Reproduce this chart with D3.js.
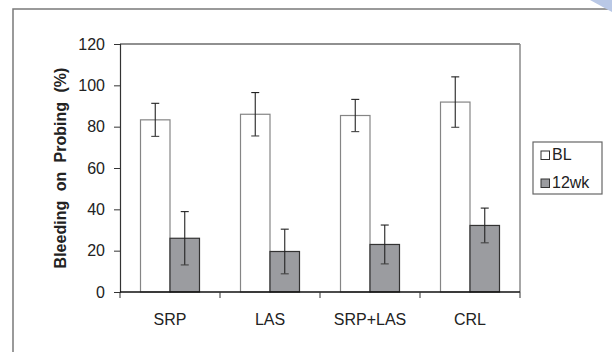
<!DOCTYPE html>
<html>
<head>
<meta charset="utf-8">
<script src="https://cdn.jsdelivr.net/npm/d3@7"></script>
<style>
  body { margin: 0; background: #fff; }
  svg { display: block; font-family: "Liberation Sans", Arial, sans-serif; }
</style>
</head>
<body>
<div id="chart"></div>
<script>
// data
var groups = ["SRP", "LAS", "SRP+LAS", "CRL"];
var series = ["BL", "12wk"];
var blMean = [83.3, 86.0, 85.4, 91.9];
var blErr = [8.0, 10.5, 7.8, 12.2];
var wkMean = [26.0, 19.6, 23.0, 32.2];
var wkErr = [12.9, 10.8, 9.4, 8.4];
var yTicks = [0, 20, 40, 60, 80, 100, 120];

var svgWidth = 612;
var svgHeight = 352;

var margin = { top: 44, right: 92, bottom: 60, left: 120 };
var width = svgWidth - margin.left - margin.right;   // 400
var height = svgHeight - margin.top - margin.bottom; // 248

var fills = { "BL": "#ffffff", "12wk": "#9b9ca0" };
var strokes = { "BL": "#858585", "12wk": "#333333" };

var rows = [];
groups.forEach(function(g, i) {
  rows.push({ group: g, key: "BL", value: blMean[i], err: blErr[i] });
  rows.push({ group: g, key: "12wk", value: wkMean[i], err: wkErr[i] });
});

var svg = d3.select("#chart")
  .append("svg")
  .attr("width", svgWidth)
  .attr("height", svgHeight);

// outer frame of the figure
svg.append("rect")
  .attr("x", 13)
  .attr("y", 9)
  .attr("width", 640)
  .attr("height", 400)
  .attr("fill", "#fff")
  .attr("stroke", "#7a7a7a")
  .attr("stroke-width", 1.5);

// faint watermark corner
svg.append("path")
  .attr("d", "M590,0 L612,0 L612,12 Z")
  .attr("fill", "#b9c8e6");

var chartGroup = svg.append("g")
  .attr("transform", `translate(${margin.left}, ${margin.top})`);

var xScale = d3.scaleBand()
  .domain(groups)
  .range([0, width])
  .paddingInner(0.41)
  .paddingOuter(0.205);

var xSub = d3.scaleBand()
  .domain(series)
  .range([0, xScale.bandwidth()]);

var yScale = d3.scaleLinear()
  .domain([0, 120])
  .range([height, 0]);

// plot area border
chartGroup.append("line")
  .attr("x1", 0).attr("x2", width)
  .attr("y1", 0).attr("y2", 0)
  .attr("stroke", "#222").attr("stroke-width", 1.2);
chartGroup.append("line")
  .attr("x1", width).attr("x2", width)
  .attr("y1", 0).attr("y2", height)
  .attr("stroke", "#8a8a8a").attr("stroke-width", 1.5);

// bars
chartGroup.selectAll(".bar")
  .data(rows)
  .enter()
  .append("rect")
  .attr("class", "bar")
  .attr("x", d => xScale(d.group) + xSub(d.key))
  .attr("y", d => yScale(d.value))
  .attr("width", xSub.bandwidth())
  .attr("height", d => height - yScale(d.value))
  .attr("fill", d => fills[d.key])
  .attr("stroke", d => strokes[d.key])
  .attr("stroke-width", 1.2);

// error bars
var errG = chartGroup.selectAll(".err")
  .data(rows)
  .enter()
  .append("g")
  .attr("class", "err")
  .attr("transform", d => `translate(${xScale(d.group) + xSub(d.key) + xSub.bandwidth() / 2}, 0)`);

errG.append("line")
  .attr("y1", d => yScale(d.value + d.err))
  .attr("y2", d => yScale(d.value - d.err))
  .attr("stroke", "#222").attr("stroke-width", 1.1);
errG.append("line")
  .attr("x1", -4).attr("x2", 4)
  .attr("y1", d => yScale(d.value + d.err))
  .attr("y2", d => yScale(d.value + d.err))
  .attr("stroke", "#222").attr("stroke-width", 1.1);
errG.append("line")
  .attr("x1", -4).attr("x2", 4)
  .attr("y1", d => yScale(d.value - d.err))
  .attr("y2", d => yScale(d.value - d.err))
  .attr("stroke", "#444").attr("stroke-width", 1.1);

// axes
var leftAxis = d3.axisLeft(yScale)
  .tickValues(yTicks)
  .tickSize(6)
  .tickPadding(9);

var yAxisG = chartGroup.append("g")
  .call(leftAxis);
yAxisG.select(".domain").attr("stroke", "#333").attr("stroke-width", 1.2);
yAxisG.selectAll(".tick line").attr("stroke", "#333");
yAxisG.selectAll("text")
  .attr("font-size", "16px")
  .attr("fill", "#222");

// x axis: ticks sit on the category boundaries
var bounds = groups.map(g => xScale(g) - xScale.step() * xScale.paddingInner() / 2)
  .concat([width]);

var xAxisG = chartGroup.append("g")
  .attr("transform", `translate(0, ${height})`);
xAxisG.append("line")
  .attr("x1", 0).attr("x2", width)
  .attr("stroke", "#111").attr("stroke-width", 1.4);
xAxisG.selectAll(".xtick")
  .data(bounds)
  .enter()
  .append("line")
  .attr("class", "xtick")
  .attr("x1", d => d).attr("x2", d => d)
  .attr("y1", 0).attr("y2", 6)
  .attr("stroke", "#333");
xAxisG.selectAll(".xlabel")
  .data(groups)
  .enter()
  .append("text")
  .attr("class", "xlabel")
  .attr("x", d => xScale(d) + xScale.bandwidth() / 2)
  .attr("y", 33)
  .attr("text-anchor", "middle")
  .attr("font-size", "16px")
  .attr("fill", "#222")
  .text(d => d);

// axis title
chartGroup.append("text")
  .attr("transform", "rotate(-90)")
  .attr("x", 0 - height / 2)
  .attr("y", 0 - margin.left + 66)
  .attr("text-anchor", "middle")
  .attr("font-size", "16px")
  .attr("font-weight", "bold")
  .attr("word-spacing", "5px")
  .attr("fill", "#222")
  .text("Bleeding on Probing (%)");

// legend
var legend = svg.append("g");
legend.append("rect")
  .attr("x", 533)
  .attr("y", 142)
  .attr("width", 69)
  .attr("height", 52)
  .attr("fill", "#fff")
  .attr("stroke", "#666")
  .attr("stroke-width", 1.2);

var items = legend.selectAll(".item")
  .data(series)
  .enter()
  .append("g")
  .attr("class", "item")
  .attr("transform", (d, i) => `translate(541, ${151 + i * 28})`);
items.append("rect")
  .attr("width", 8.5)
  .attr("height", 8.5)
  .attr("fill", d => fills[d])
  .attr("stroke", "#333")
  .attr("stroke-width", 1);
items.append("text")
  .attr("x", 11)
  .attr("y", 8.8)
  .attr("font-size", "16px")
  .attr("fill", "#222")
  .text(d => d);
</script>
</body>
</html>
